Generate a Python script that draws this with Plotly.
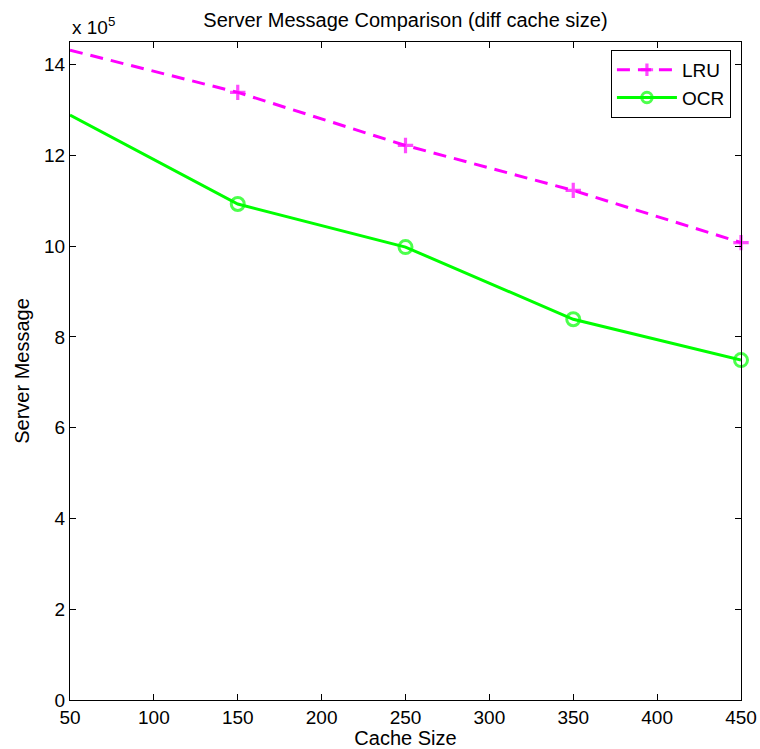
import plotly.graph_objects as go

cache_size = [50, 150, 250, 350, 450]
lru = [1432000, 1339000, 1222000, 1123000, 1008000]
ocr = [1289000, 1093000, 998000, 839000, 749000]
y_tick_vals = [0, 200000, 400000, 600000, 800000, 1000000, 1200000, 1400000]
y_tick_text = ["0", "2", "4", "6", "8", "10", "12", "14"]
x_tick_vals = [50, 100, 150, 200, 250, 300, 350, 400, 450]

FONT = "Liberation Sans, Arial, sans-serif"
FS = 19
FT = 20

fig = go.Figure()
fig.add_trace(go.Scatter(
    x=cache_size, y=lru, name="LRU", mode="lines+markers",
    line=dict(color="#ff00ff", width=3, dash="13px,8px"),
    marker=dict(symbol="cross-thin", size=[0, 11, 11, 11, 11],
                line=dict(color="#ff00ff", width=3.2), color="#ff00ff"),
    cliponaxis=False,
))
fig.add_trace(go.Scatter(
    x=cache_size, y=ocr, name="OCR", mode="lines+markers",
    line=dict(color="#00ff00", width=3),
    marker=dict(symbol="circle-open", size=[0, 13, 13, 13, 13],
                line=dict(color="#00ff00", width=3), color="#00ff00"),
    cliponaxis=False,
))

axis_common = dict(
    showline=True, linecolor="black", linewidth=1.2, mirror="ticks",
    ticks="inside", ticklen=6, tickcolor="black", showgrid=False,
    zeroline=False, automargin=False,
    tickfont=dict(family=FONT, size=FS, color="black"),
)

fig.update_layout(
    width=760, height=749,
    margin=dict(l=70, r=19, t=42, b=49),
    paper_bgcolor="white", plot_bgcolor="white",
    font=dict(family=FONT, size=FS, color="black"),
    title=dict(text="Server Message Comparison (diff cache size)",
               x=0.5335, xanchor="center", y=0.973, yanchor="middle",
               font=dict(family=FONT, size=FT, color="black")),
    xaxis=dict(range=[50, 450], tickvals=x_tick_vals,
               title=dict(text="Cache Size", standoff=1,
                          font=dict(family=FONT, size=FT)),
               **axis_common),
    yaxis=dict(range=[0, 1450000], tickvals=y_tick_vals, ticktext=y_tick_text,
               title=dict(text="Server Message", standoff=8,
                          font=dict(family=FONT, size=FT)),
               **axis_common),
    legend=dict(x=0.985, xanchor="right", y=0.988, yanchor="top",
                bordercolor="black", borderwidth=1, bgcolor="white",
                font=dict(family=FONT, size=FS, color="black"),
                itemwidth=60, tracegroupgap=0),
    showlegend=True,
)
fig.add_annotation(text="x 10<sup>5</sup>", xref="paper", yref="paper",
                   x=0, xanchor="left", y=1.003, yanchor="bottom",
                   showarrow=False, font=dict(family=FONT, size=FS, color="black"))

fig.write_html("out.html")
